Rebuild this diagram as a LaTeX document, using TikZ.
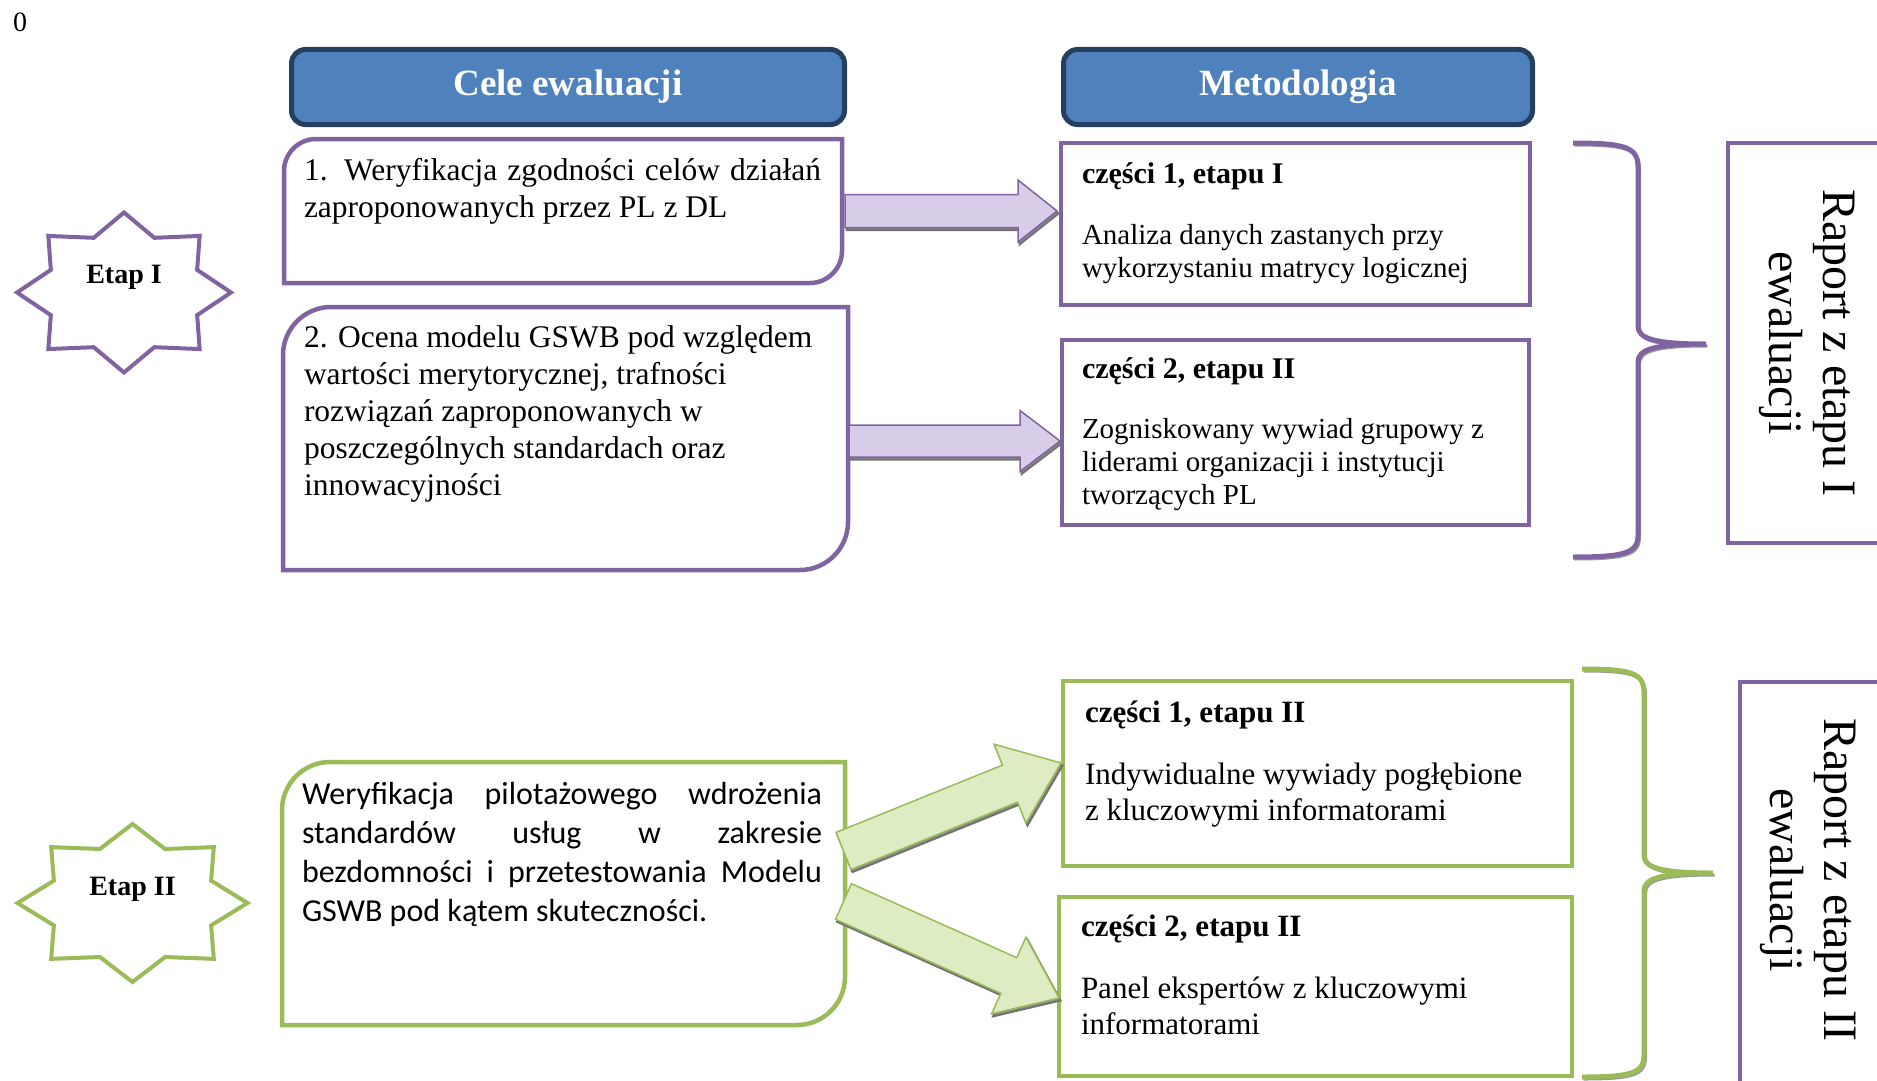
\documentclass[tikz,border=0pt]{standalone}
\usepackage{fontspec}
\setmainfont{Liberation Serif}
\newfontfamily\calibrifont{Carlito}
\usetikzlibrary{calc}
\definecolor{hdrfill}{HTML}{4F81BD}
\definecolor{hdrline}{HTML}{243F60}
\definecolor{purp}{HTML}{8064A2}
\definecolor{grn}{HTML}{9BBB59}
\definecolor{purpfill}{HTML}{D8CDE8}
\definecolor{grnfill}{HTML}{DDECC2}
\newcommand\fntBody{\fontsize{31.5}{37}\selectfont}
\newcommand\fntCal{\calibrifont\fontsize{32}{39}\selectfont}
\newcommand\fntUp{\fontsize{29}{33}\selectfont}
\newcommand\fntLow{\fontsize{31}{36.5}\selectfont}
\newcommand\fntTitle{\bfseries\fontsize{30}{34}\selectfont}
\newcommand\fntTitleL{\bfseries\fontsize{31}{35}\selectfont}
\newcommand\fntRep{\fontsize{48}{54}\selectfont}
\newcommand\diagbox[6]{%
  \draw[#1] (#2,#5) -- (#2,#3+#6) .. controls (#2,#3+0.45*#6) and (#2+0.45*#6,#3) .. (#2+#6,#3)
    -- (#4,#3) -- (#4,#5-#6) .. controls (#4,#5-0.45*#6) and (#4-0.45*#6,#5) .. (#4-#6,#5) -- cycle;}
\newcommand\blockarrow[7]{% style, from, to, headbase name, shaft half, head half, head length
  \coordinate (#4) at ($(#3)!#7!(#2)$);
  \draw[#1] ($(#2)!#5!90:(#3)$) -- ($(#4)!#5!-90:(#2)$) -- ($(#4)!#6!-90:(#2)$) -- (#3)
    -- ($(#4)!#6!90:(#2)$) -- ($(#4)!#5!90:(#2)$) -- ($(#2)!#5!-90:(#3)$) -- cycle;}
\tikzset{
  hdr/.style={draw=hdrline, fill=hdrfill, line width=5pt, rounded corners=14pt,
    text=white, font=\bfseries\fontsize{37}{40}\selectfont, inner sep=0pt, anchor=north west},
  pbox/.style={draw=purp, line width=4.5pt, fill=white},
  gbox/.style={draw=grn, line width=4.5pt, fill=white},
  txt/.style={anchor=base west, inner sep=0pt, outer sep=0pt},
  parrow/.style={draw=purp, line width=1.5pt, fill=purpfill, line join=miter},
  garrow/.style={draw=grn, line width=1.5pt, fill=grnfill, line join=miter},
  ashadow/.style={draw=black!55, line width=2pt, fill=black!45, transform canvas={shift={(1.5pt,-2.5pt)}}},
  pbrace/.style={draw=purp, line width=5pt},
  gbrace/.style={draw=grn, line width=5pt},
  bshadow/.style={draw=black!40, line width=3pt, transform canvas={shift={(1.5pt,-2pt)}}},
  pstar/.style={draw=purp, line width=4pt, fill=white},
  gstar/.style={draw=grn, line width=4pt, fill=white},
  etap/.style={font=\bfseries\fontsize{28}{30}\selectfont, anchor=base, inner sep=0pt},
  rep/.style={rotate=-90, align=center, font=\fntRep, inner sep=0pt}
}
\begin{document}
\begin{tikzpicture}[x=1pt,y=-1pt]
\useasboundingbox (0,0) rectangle (1877,1081);
\clip (0,0) rectangle (1877,1081);
\fill[white] (0,0) rectangle (1877,1081);

\node[inner sep=0pt, font=\fontsize{28}{30}\selectfont] (zero) at (20,22) {0};

% headers
\node[hdr, minimum width=553pt, minimum height=75pt] (hcele) at (289,47) {Cele ewaluacji};
\node[hdr, minimum width=469pt, minimum height=75pt] (hmet) at (1061,47) {Metodologia};

% stars
\begin{scope}[shift={(124,292.5)}, x=107pt, y=-80pt]
  \draw[pstar] (0:1) \foreach \a in {45,90,...,315} { -- (\a-22.5:0.74) -- (\a:1) } -- (337.5:0.74) -- cycle;
\end{scope}
\node[etap] (etap1) at (124,283) {Etap I};
\begin{scope}[shift={(132.5,903)}, x=115pt, y=-79pt]
  \draw[gstar] (0:1) \foreach \a in {45,90,...,315} { -- (\a-22.5:0.74) -- (\a:1) } -- (337.5:0.74) -- cycle;
\end{scope}
\node[etap] (etap2) at (132.5,895) {Etap II};

% left boxes
\diagbox{pbox}{284}{139}{842}{283}{32}
\node[txt] (cel1) at (304,180) {\parbox[t]{517pt}{\fntBody\makebox[\linewidth][s]{1. Weryfikacja zgodności celów działań}\\zaproponowanych przez PL z DL}};
\diagbox{pbox}{283}{307}{848}{570}{48}
\node[txt] (cel2) at (304,347) {\parbox[t]{540pt}{\raggedright\fntBody 2. Ocena modelu GSWB pod względem\\wartości merytorycznej, trafności\\rozwiązań zaproponowanych w\\poszczególnych standardach oraz\\innowacyjności}};
\diagbox{gbox}{282}{762}{845}{1025}{48}
\node[txt] (cel3) at (302,804) {\parbox[t]{520pt}{\fntCal\makebox[\linewidth][s]{Weryfikacja pilotażowego wdrożenia}\\\makebox[\linewidth][s]{standardów usług w zakresie}\\\makebox[\linewidth][s]{bezdomności i przetestowania Modelu}\\GSWB pod kątem skuteczności.}};

% method boxes
\draw[pbox] (1061,143) rectangle (1530,305);
\node[txt] (m1t) at (1082,183) {\fntTitle części 1, etapu I};
\node[txt] (m1b) at (1082,244) {\parbox[t]{440pt}{\raggedright\fntUp Analiza danych zastanych przy\\wykorzystaniu matrycy logicznej}};
\draw[pbox] (1062,340) rectangle (1529,525);
\node[txt] (m2t) at (1082,378) {\fntTitle części 2, etapu II};
\node[txt] (m2b) at (1082,438) {\parbox[t]{440pt}{\raggedright\fntUp Zogniskowany wywiad grupowy z\\liderami organizacji i instytucji\\tworzących PL}};
\draw[gbox] (1063,681) rectangle (1572,866);
\node[txt] (m3t) at (1085,722) {\fntTitleL części 1, etapu II};
\node[txt] (m3b) at (1085,784) {\parbox[t]{480pt}{\raggedright\fntLow Indywidualne wywiady pogłębione\\z kluczowymi informatorami}};
\draw[gbox] (1059,897) rectangle (1572,1076);
\node[txt] (m4t) at (1081,936) {\fntTitleL części 2, etapu II};
\node[txt] (m4b) at (1081,998) {\parbox[t]{480pt}{\raggedright\fntLow Panel ekspertów z kluczowymi\\informatorami}};

% arrow end points
\coordinate (a1s) at (845,211);  \coordinate (a1e) at (1057,211);
\coordinate (a2s) at (849,441);  \coordinate (a2e) at (1060,441);
\coordinate (a3s) at (843.5,851); \coordinate (a3e) at (1061,763);
\coordinate (a4s) at (843.5,901.5); \coordinate (a4e) at (1059,998);

\blockarrow{ashadow}{a1s}{a1e}{a1h}{16.5pt}{31pt}{39pt}
\blockarrow{parrow}{a1s}{a1e}{a1h}{16.5pt}{31pt}{39pt}
\blockarrow{ashadow}{a2s}{a2e}{a2h}{16pt}{30.5pt}{40pt}
\blockarrow{parrow}{a2s}{a2e}{a2h}{16pt}{30.5pt}{40pt}
\blockarrow{ashadow}{a3s}{a3e}{a3h}{20pt}{42.5pt}{55pt}
\blockarrow{garrow}{a3s}{a3e}{a3h}{20pt}{42.5pt}{55pt}
\blockarrow{ashadow}{a4s}{a4e}{a4h}{19.5pt}{42pt}{55pt}
\blockarrow{garrow}{a4s}{a4e}{a4h}{19.5pt}{42pt}{55pt}

% braces
\coordinate (br1a) at (1573,143); \coordinate (br1t) at (1706,344); \coordinate (br1b) at (1573,557);
\foreach \st in {bshadow,pbrace}{
\draw[\st] (br1a) .. controls (1625,143) and (1638,147) .. (1638,167) -- (1638,326)
  .. controls (1638,338) and (1652,344) .. (br1t) .. controls (1652,344) and (1638,350) .. (1638,362)
  -- (1638,535) .. controls (1638,553) and (1625,557) .. (br1b);}
\coordinate (br2a) at (1582,669); \coordinate (br2t) at (1713,873); \coordinate (br2b) at (1582,1077);
\foreach \st in {bshadow,gbrace}{
\draw[\st] (br2a) .. controls (1632,669) and (1644,673) .. (1644,693) -- (1644,855)
  .. controls (1644,867) and (1658,873) .. (br2t) .. controls (1658,873) and (1644,879) .. (1644,891)
  -- (1644,1055) .. controls (1644,1073) and (1632,1077) .. (br2b);}

% report boxes
\draw[pbox] (1728,143) rectangle (1900,543);
\node[rep] (rep1) at (1807,343) {Raport z etapu I\\ewaluacji};
\draw[pbox] (1740,682) rectangle (1900,1100);
\node[rep] (rep2) at (1808,880) {Raport z etapu II\\ewaluacji};
\end{tikzpicture}
\end{document}
